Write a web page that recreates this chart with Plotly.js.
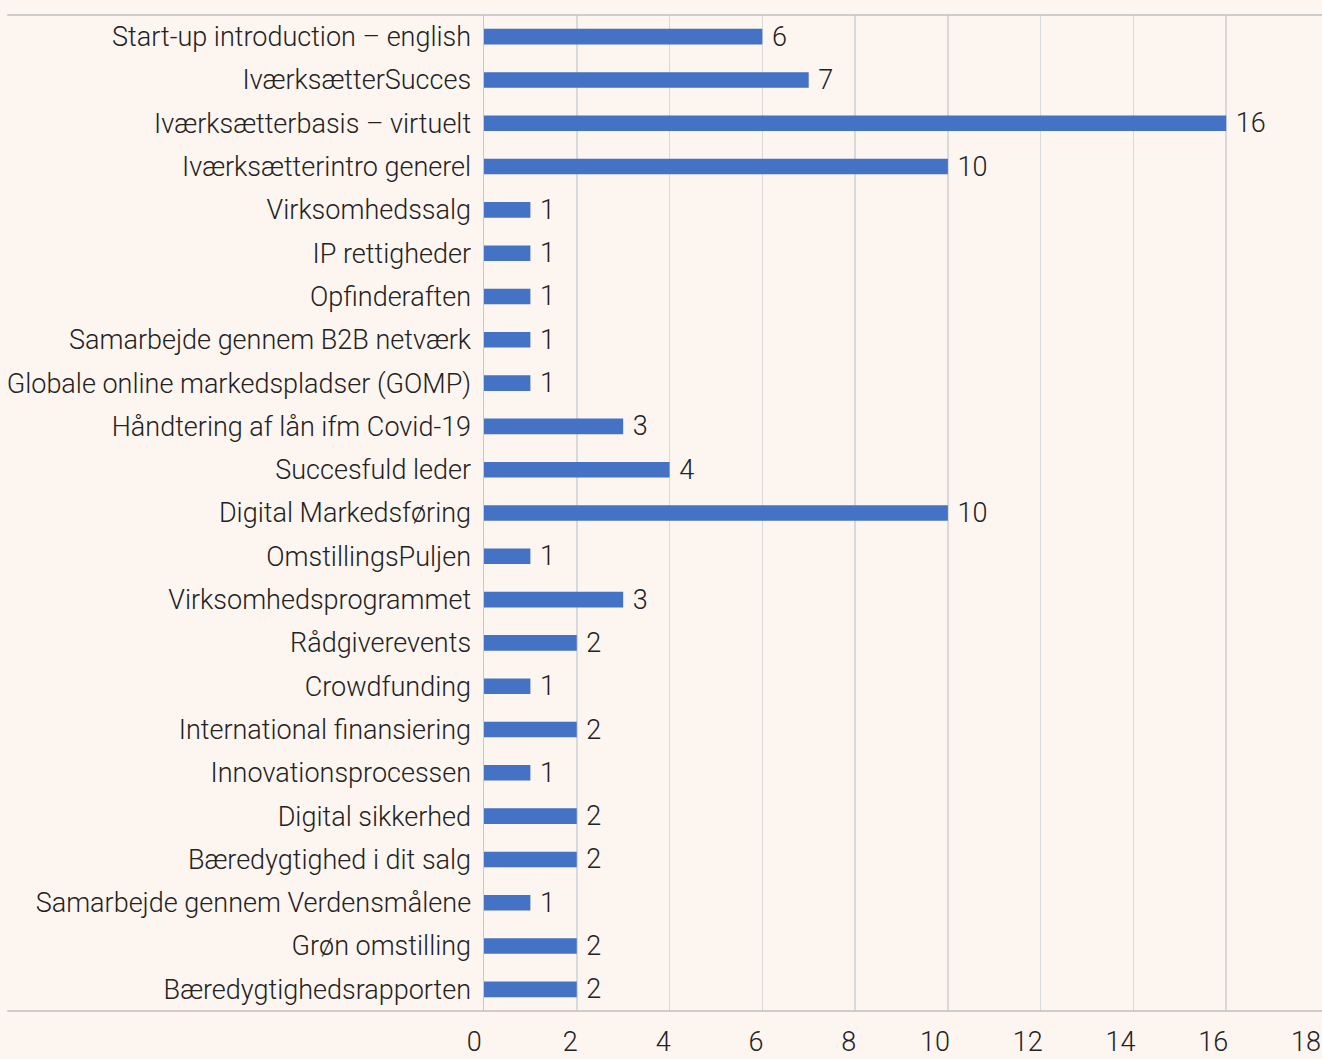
<!DOCTYPE html>
<html>
<head>
<meta charset="utf-8">
<script src="https://cdn.plot.ly/plotly-3.0.1.min.js"></script>
<style>
  html, body { margin: 0; padding: 0; background: #fdf5ef; }
  #chart { width: 1322px; height: 1059px; }
</style>
</head>
<body>
<div id="chart"></div>
<script>
const categories = [
  "Start-up introduction – english",
  "IværksætterSucces",
  "Iværksætterbasis – virtuelt",
  "Iværksætterintro generel",
  "Virksomhedssalg",
  "IP rettigheder",
  "Opfinderaften",
  "Samarbejde gennem B2B netværk",
  "Globale online markedspladser (GOMP)",
  "Håndtering af lån ifm Covid-19",
  "Succesfuld leder",
  "Digital Markedsføring",
  "OmstillingsPuljen",
  "Virksomhedsprogrammet",
  "Rådgiverevents",
  "Crowdfunding",
  "International finansiering",
  "Innovationsprocessen",
  "Digital sikkerhed",
  "Bæredygtighed i dit salg",
  "Samarbejde gennem Verdensmålene",
  "Grøn omstilling",
  "Bæredygtighedsrapporten"
];
const values = [6, 7, 16, 10, 1, 1, 1, 1, 1, 3, 4, 10, 1, 3, 2, 1, 2, 1, 2, 2, 1, 2, 2];
const xTicks = [0, 2, 4, 6, 8, 10, 12, 14, 16, 18];
const xTickText = ["\u00a00", "\u00a0\u00a02", "\u00a0\u00a04", "\u00a0\u00a06", "\u00a0\u00a08",
                   "10", "12", "14", "16", "18"];

const fontFamily = "Roboto, 'Noto Sans', sans-serif";
const textColor = "#222222";
const fontSize = 27;

const trace = {
  type: 'bar',
  orientation: 'h',
  y: categories,
  x: values,
  text: values.map(v => ' ' + v),
  textposition: 'outside',
  constraintext: 'none',
  cliponaxis: false,
  textfont: { family: fontFamily, size: fontSize, color: textColor, weight: 300 },
  marker: { color: '#4472C4', line: { width: 0 } },
  width: 0.36,
  hoverinfo: 'x+y'
};

const layout = {
  width: 1322,
  height: 1059,
  paper_bgcolor: '#fdf5ef',
  plot_bgcolor: '#fdf5ef',
  margin: { l: 484, r: 3, t: 15, b: 48, pad: 0 },
  showlegend: false,
  bargap: 0.64,
  font: { family: fontFamily, size: fontSize, color: textColor, weight: 300 },
  xaxis: {
    range: [0, 18],
    tickvals: xTicks,
    ticktext: xTickText,
    showgrid: true,
    gridcolor: '#d9d9d9',
    gridwidth: 1.5,
    zeroline: false,
    showline: false,
    ticks: '',
    ticklabelstandoff: 12,
    ticklabelshift: -13,
    ticklabeloverflow: 'allow',
    tickfont: { family: fontFamily, size: fontSize, color: textColor, weight: 300 },
    fixedrange: true
  },
  yaxis: {
    type: 'category',
    autorange: 'reversed',
    showgrid: false,
    zeroline: false,
    showline: true,
    linecolor: '#c8c8c8',
    linewidth: 1.5,
    ticks: '',
    ticklabelstandoff: 6,
    tickfont: { family: fontFamily, size: fontSize, color: textColor, weight: 300 },
    fixedrange: true
  },
  shapes: [
    { type: 'line', xref: 'paper', yref: 'paper', x0: -0.571, x1: 1.004, y0: 1, y1: 1,
      line: { color: '#bfbfbf', width: 1.5 } },
    { type: 'line', xref: 'paper', yref: 'paper', x0: -0.571, x1: 1.004, y0: 0, y1: 0,
      line: { color: '#bfbfbf', width: 1.5 } }
  ]
};

Plotly.newPlot('chart', [trace], layout, { displayModeBar: false, staticPlot: true });
</script>
</body>
</html>
